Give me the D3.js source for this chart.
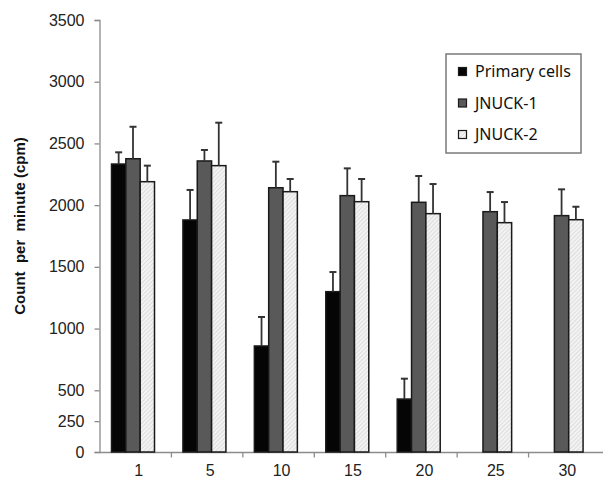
<!DOCTYPE html>
<html><head><meta charset="utf-8">
<script src="https://cdn.jsdelivr.net/npm/d3@7"></script>
<style>body{margin:0;background:#fff}svg{display:block}</style>
</head><body>
<script>
const categories = ["1","5","10","15","20","25","30"];
const seriesNames = ["Primary cells","JNUCK-1","JNUCK-2"];
const primary = [2333, 1880, 859, 1299, 429, null, null];
const primaryErr = [95, 243, 235, 159, 165, null, null];
const jnuck1 = [2376, 2358, 2141, 2077, 2023, 1947, 1915];
const jnuck1Err = [259, 89, 211, 221, 213, 159, 213];
const jnuck2 = [2190, 2320, 2109, 2028, 1931, 1858, 1882];
const jnuck2Err = [130, 348, 103, 184, 240, 167, 105];
const yTicks = [0, 250, 500, 1000, 1500, 2000, 2500, 3000, 3500];
const yLabel = "Count  per  minute (cpm)";

const W = 603, H = 480;
const svg = d3.select("body").append("svg").attr("width", W).attr("height", H);
const defs = svg.append("defs");
const pat = defs.append("pattern").attr("id","hatch").attr("patternUnits","userSpaceOnUse")
  .attr("width",3).attr("height",3).attr("patternTransform","rotate(45)");
pat.append("rect").attr("width",3).attr("height",3).attr("fill","#f3f3f3");
pat.append("line").attr("x1",0).attr("y1",0).attr("x2",0).attr("y2",3).attr("stroke","#c8c8c8").attr("stroke-width",1);

const fills = ["#050505","#595959","url(#hatch)"];
const series = [
  {name: seriesNames[0], values: primary, errs: primaryErr},
  {name: seriesNames[1], values: jnuck1, errs: jnuck1Err},
  {name: seriesNames[2], values: jnuck2, errs: jnuck2Err}
];

const x = d3.scaleBand().domain(categories).range([100, 600]).paddingInner(0).paddingOuter(0);
const sub = d3.scaleBand().domain([0,1,2]).range([11.5, 11.5 + 43]);
const y = d3.scaleLinear().domain([0, 3500]).range([452, 20]);

const axisColor = "#8c8c8c";
const fontTick = "'Liberation Sans', Arial, sans-serif";
const ya = svg.append("g").attr("transform","translate(99.5,0)")
  .call(d3.axisLeft(y).tickValues(yTicks).tickSize(5).tickPadding(10).tickFormat(d3.format("d")));
ya.select(".domain").attr("stroke", axisColor).attr("stroke-width",1.3);
ya.selectAll(".tick line").attr("stroke", axisColor).attr("stroke-width",1.3);
ya.selectAll(".tick text").attr("font-family", fontTick).attr("font-size", 16).attr("fill","#222");

const xa = svg.append("g").attr("transform","translate(0,452.5)");
xa.append("line").attr("x1",99.5).attr("x2",603).attr("stroke",axisColor).attr("stroke-width",1.3);
xa.selectAll("line.t").data(categories.slice(1)).enter().append("line").attr("class","t")
  .attr("x1", d => x(d)).attr("x2", d => x(d)).attr("y1",0).attr("y2",5)
  .attr("stroke",axisColor).attr("stroke-width",1.3);
xa.selectAll("text").data(categories).enter().append("text")
  .attr("x", d => x(d) + x.bandwidth()/2 + 3).attr("y", 23)
  .attr("text-anchor","middle").attr("font-family", fontTick).attr("font-size",16).attr("fill","#222")
  .text(d => d);

series.forEach((s, si) => {
  const g = svg.append("g");
  const data = categories.map((c, i) => ({c, v: s.values[i], e: s.errs[i]})).filter(d => d.v != null);
  g.selectAll("rect").data(data).enter().append("rect")
    .attr("x", d => x(d.c) + sub(si))
    .attr("y", d => y(d.v))
    .attr("width", sub.bandwidth())
    .attr("height", d => y(0) - y(d.v))
    .attr("fill", fills[si]).attr("stroke","#1a1a1a").attr("stroke-width",1.5);
  const eg = g.selectAll("g.err").data(data).enter().append("g");
  eg.append("line")
    .attr("x1", d => x(d.c) + sub(si) + sub.bandwidth()/2)
    .attr("x2", d => x(d.c) + sub(si) + sub.bandwidth()/2)
    .attr("y1", d => y(d.v)).attr("y2", d => y(d.v + d.e))
    .attr("stroke","#333").attr("stroke-width",1.8);
  eg.append("line")
    .attr("x1", d => x(d.c) + sub(si) + sub.bandwidth()/2 - 3.5)
    .attr("x2", d => x(d.c) + sub(si) + sub.bandwidth()/2 + 3.5)
    .attr("y1", d => y(d.v + d.e)).attr("y2", d => y(d.v + d.e))
    .attr("stroke","#333").attr("stroke-width",2);
});

svg.append("text").attr("transform","translate(25,226) rotate(-90)")
  .attr("text-anchor","middle").attr("font-family", fontTick).attr("font-weight","bold")
  .attr("font-size",15).attr("fill","#111").style("white-space","pre").text(yLabel);

const lg = svg.append("g");
lg.append("rect").attr("x",446).attr("y",54).attr("width",135).attr("height",99)
  .attr("fill","#fff").attr("stroke","#7a7a7a").attr("stroke-width",1.5);
const rows = lg.selectAll("g.row").data(series).enter().append("g")
  .attr("transform", (d,i) => `translate(458,${71.5 + i*31.5})`);
rows.append("rect").attr("x",0.5).attr("y",-4).attr("width",8).attr("height",8)
  .attr("fill",(d,i) => fills[i]).attr("stroke","#1a1a1a").attr("stroke-width",1.2);
rows.append("text").attr("x",17).attr("y",0).attr("dy","0.36em")
  .attr("font-family","'Noto Sans', sans-serif").attr("font-size",16).attr("fill","#111")
  .text(d => d.name);
</script>
</body></html>
